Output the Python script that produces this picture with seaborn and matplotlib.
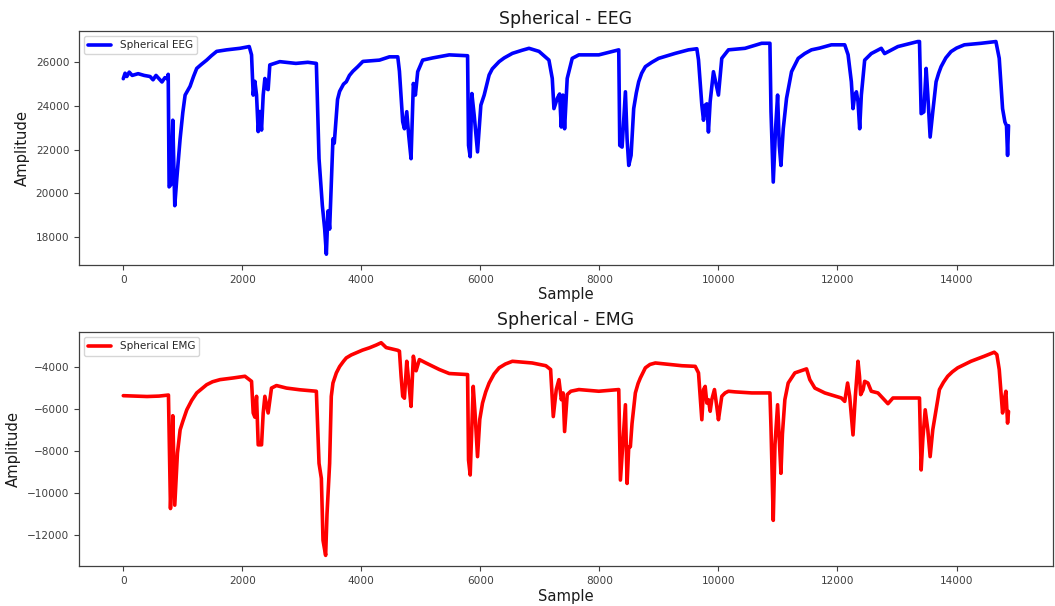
import numpy as np
import pandas as pd
import matplotlib
matplotlib.use("Agg")
import matplotlib.pyplot as plt
import seaborn as sns

# ---- EEG (sample index, amplitude) ----
eeg_sample = [0, 30, 60, 100, 150, 250, 350, 450, 500, 550, 600, 650, 700, 740, 755, 770, 800, 832, 865,
              899, 955, 1000, 1039, 1080, 1122, 1180, 1234, 1310, 1401, 1480, 1569, 1737, 1960, 2116, 2155,
              2183, 2211, 2239, 2267, 2295,
              2323, 2351, 2379, 2407, 2434, 2462, 2630, 2900, 3100, 3244, 3289, 3345, 3384, 3412, 3440, 3467,
              3523, 3545, 3600, 3635, 3700, 3747, 3800, 3858, 3940, 4026, 4305, 4472, 4612, 4640, 4695, 4724,
              4763, 4796, 4835, 4874,
              4908, 4947, 5030, 5198, 5477, 5785, 5801, 5829, 5857, 5896, 5952, 6008, 6064, 6147, 6200, 6315,
              6400, 6538, 6700,
              6817, 6985, 7152, 7208, 7236, 7292, 7331, 7359, 7387, 7415, 7459, 7543, 7655, 7990, 8213, 8325,
              8342, 8381, 8437, 8465, 8493, 8532, 8576, 8620, 8660, 8710, 8772, 8880, 8995, 9275, 9497, 9637,
              9665, 9721, 9749,
              9777, 9805, 9832, 9861, 9916, 10000, 10056, 10168, 10447, 10726, 10865, 10883, 10921, 10960,
              10994, 11022, 11050, 11089, 11144, 11228, 11340, 11450, 11563, 11700, 11898, 12122, 12178, 12233,
              12261, 12290,
              12318, 12345, 12373, 12401, 12457, 12568, 12736, 12792, 13015, 13350, 13378, 13406, 13451, 13490,
              13518, 13557, 13601, 13657, 13700, 13741, 13820, 13908, 14000, 14132, 14411, 14662, 14718, 14774,
              14813, 14840, 14858, 14874]
eeg_amp = [25250, 25500, 25350, 25550, 25400, 25480, 25400, 25350, 25200, 25400, 25250, 25100, 25300, 25250,
           25450, 20300, 20400, 23350, 19440,
           20670, 22500, 23700, 24500, 24700, 24900, 25350, 25720, 25900, 26100, 26300, 26500, 26570, 26640,
           26720, 26340,
           24500, 25130, 24500, 22830, 23750,
           22900, 24500, 25260, 24800, 24750, 25880, 26030, 25950, 26000, 25950, 21590, 19440, 18370, 17220,
           19200, 18370,
           22500, 22300, 24300, 24670, 25000, 25110, 25400, 25590, 25800, 26040, 26100, 26250, 26250, 25590,
           23280, 22960,
           23740, 22650, 21590, 25030,
           24500, 25570, 26100, 26200, 26340, 26300, 22200, 21680, 24570, 23580, 21900, 24040, 24500, 25420,
           25700, 26030,
           26200, 26410, 26550,
           26640, 26500, 26100, 25260, 23880, 24350, 24550, 23040, 24500, 22960, 25260, 26180, 26340, 26340,
           26490, 26570,
           22200, 22120, 24650, 22500, 21280, 21740, 23880, 24600, 25110, 25500, 25800, 26000, 26180, 26410,
           26570, 26620,
           26110, 24040, 23350,
           24040, 24100, 22810, 24200, 25570, 24500, 26180, 26570, 26640, 26870, 26870, 23750, 20520, 22960,
           24500, 22200, 21280, 22960, 24350, 25570, 26180, 26400, 26570, 26650, 26800, 26800, 26350, 25110,
           23880, 24500,
           24650, 24200, 22960, 24500, 26100, 26400, 26640, 26400, 26720, 26950, 26950, 23650, 23730, 25720,
           24500, 22580, 23730, 25110, 25500, 25800, 26200, 26490, 26650, 26800, 26870, 26950, 26180, 23880,
           23270, 23100, 21740, 23100]

# ---- EMG (sample index, amplitude) ----
emg_sample = [0, 200, 400, 600, 759, 793, 815, 832, 865, 910, 955, 1000, 1067, 1150, 1234, 1320, 1401, 1500,
              1625, 1848, 2044, 2155,
              2183, 2211, 2239, 2267, 2323, 2351, 2379, 2434, 2490, 2574, 2742, 2965, 3244, 3289, 3328, 3356,
              3400, 3423, 3467, 3495, 3523, 3580, 3635, 3700, 3747, 3830, 3914, 4020, 4137, 4250, 4333, 4417,
              4612, 4640, 4668, 4695, 4724,
              4763, 4796, 4835, 4874, 4920, 4975, 5085, 5310, 5477, 5785, 5801, 5829, 5880, 5910, 5952, 5990,
              6036, 6090, 6147, 6230, 6315, 6420, 6538, 6870, 7100, 7180, 7225, 7275, 7320, 7360, 7390, 7415,
              7459, 7520, 7655,
              7990, 8325, 8353, 8410, 8437, 8465, 8493, 8520, 8548, 8604, 8650, 8688, 8772, 8850, 8940, 9107,
              9385, 9610,
              9665, 9721, 9749, 9777, 9805, 9832, 9861, 9888, 9933, 9972, 10000, 10056, 10112, 10168, 10280,
              10560, 10865, 10883, 10921, 10950, 10994, 11022, 11050, 11075, 11116, 11172, 11284, 11480, 11535,
              11620, 11787, 12066, 12122, 12170, 12205, 12261, 12300, 12345, 12370, 12390, 12430, 12457, 12512,
              12568, 12680, 12848, 12932, 13127, 13378, 13406, 13435, 13474, 13518, 13557, 13601, 13657, 13713,
              13780, 13852, 13930, 14020, 14243, 14467, 14634, 14678, 14718, 14774, 14813, 14830, 14858, 14874]
emg_amp = [-5380, -5400, -5420, -5400, -5350, -10730, -9000, -6330, -10570, -8100, -7000, -6600, -6050, -5600,
           -5250, -5050, -4860, -4720,
           -4620, -4540, -4460, -4700,
           -6200, -6400, -5410, -7710, -7710, -6200, -5410, -6200, -5020, -4900, -5020, -5100, -5170, -8590,
           -9300, -12240,
           -12950, -11000, -8590, -5410, -4780, -4300, -4000, -3750, -3590, -3450, -3350, -3220, -3110, -2980,
           -2870, -3100,
           -3230, -3270, -4460, -5410, -5500,
           -3750, -4700, -5890, -3510, -4200, -3670, -3830, -4140, -4330, -4380, -8430, -9140, -4940, -6200,
           -8270, -6500,
           -5730, -5200, -4780, -4350, -4060, -3880, -3750, -3830, -3960, -4140, -6370, -5090, -4620, -5570,
           -5250, -7080,
           -5330, -5170, -5090,
           -5170, -5090, -9380, -7000, -5810, -9540, -7800, -7800, -6700, -5250, -4800, -4540, -4060, -3900,
           -3830, -3880,
           -3960, -3990,
           -4300, -6520, -5090, -4940, -5730, -5570, -6120, -5570, -5090, -5890, -6520, -5410, -5250, -5170,
           -5200,
           -5250, -5250, -6900, -11290, -7700, -5810, -7400, -9060, -7200, -5570, -4780, -4300, -4110, -4620,
           -5020, -5250, -5490, -5650, -4780, -5410, -7240, -5410, -3750, -4460, -5330, -5100, -4700, -4780,
           -5170, -5250, -5760, -5490, -5490, -5490, -8900, -7400, -6050, -7000, -8270, -7000, -6050, -5090,
           -4750, -4460, -4250, -4060, -3750, -3510, -3320, -3430, -4140, -6200, -5410, -5170, -6680, -6130]

eeg_df = pd.DataFrame({"Sample": eeg_sample, "Amplitude": eeg_amp})
emg_df = pd.DataFrame({"Sample": emg_sample, "Amplitude": emg_amp})

sns.set_style("ticks")
plt.rcParams["font.family"] = ["DejaVu Sans"]
plt.rcParams["axes.edgecolor"] = "0.25"
plt.rcParams["xtick.color"] = "0.25"
plt.rcParams["ytick.color"] = "0.25"

fig = plt.figure(figsize=(10.55, 6.06), dpi=100)
ax1 = fig.add_axes([0.0749, 0.563, 0.923, 0.386])
ax2 = fig.add_axes([0.0749, 0.066, 0.923, 0.386])

sns.lineplot(data=eeg_df, x="Sample", y="Amplitude", ax=ax1, color="#0000ff", lw=2.6,
             estimator=None, sort=False, label="Spherical EEG")
sns.lineplot(data=emg_df, x="Sample", y="Amplitude", ax=ax2, color="#ff0000", lw=2.6,
             estimator=None, sort=False, label="Spherical EMG")

for ax, title in [(ax1, "Spherical - EEG"), (ax2, "Spherical - EMG")]:
    ax.set_title(title, fontsize=12.4, color="0.1", pad=5)
    ax.set_xlabel("Sample", fontsize=10.6, color="0.1", labelpad=2)
    ax.set_ylabel("Amplitude", fontsize=10.6, color="0.1")
    ax.tick_params(labelsize=7.6, length=3.5)
    ax.margins(x=0.05, y=0.05)
    ax.legend(loc="upper left", fontsize=7.5, frameon=True, handlelength=2.2)
    for s in ax.spines.values():
        s.set_visible(True)
        s.set_linewidth(0.9)

fig.savefig("out.png", dpi=100)
